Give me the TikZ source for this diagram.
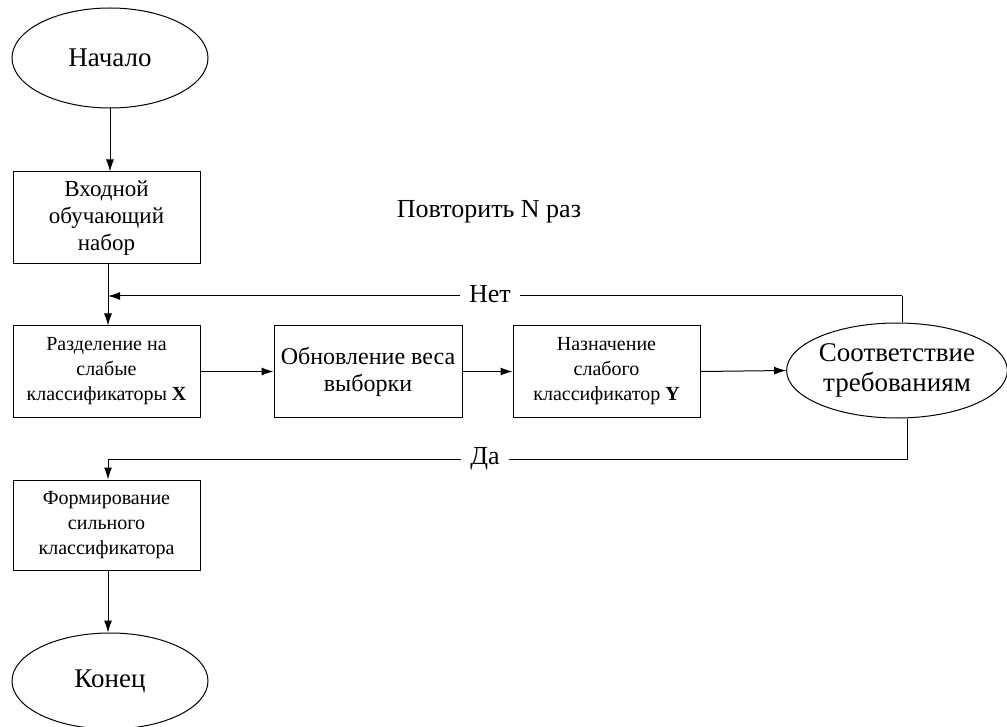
\documentclass[tikz,border=0pt]{standalone}
\usepackage{fontspec}
\setmainfont{Liberation Serif}
\usetikzlibrary{shapes.geometric,arrows.meta}
\tikzset{
  box/.style={draw, line width=1pt, minimum width=187pt, minimum height=92pt, align=center, inner sep=2pt},
  oval/.style={draw, ellipse, line width=1pt, align=center, inner sep=0pt},
  conn/.style={line width=1pt, -{Latex[length=12pt,width=8pt]}},
  plain/.style={line width=1pt},
  lbl/.style={fill=white, inner xsep=9pt, inner ysep=2pt, font=\fontsize{26}{30}\selectfont},
}
\begin{document}
\begin{tikzpicture}[x=1pt,y=-1pt]
\useasboundingbox (0,0) rectangle (1007,727);
\node[oval, minimum width=196pt, minimum height=100pt, font=\fontsize{27}{31}\selectfont] (start) at (110,58) {Начало};
\node[box, minimum height=92pt, font=\fontsize{23}{27}\selectfont] (inp) at (106.5,218) {Входной\\обучающий\\набор};
\node[box, minimum height=91pt, font=\fontsize{20}{25}\selectfont] (split) at (106.5,371.5) {Разделение на\\слабые\\классификаторы \textbf{X}};
\node[box, minimum width=188pt, minimum height=91pt, font=\fontsize{24}{27}\selectfont] (upd) at (368,371.5) {Обновление веса\\выборки};
\node[box, minimum height=91pt, font=\fontsize{20}{25}\selectfont] (assign) at (606.5,371.5) {Назначение\\слабого\\классификатор \textbf{Y}};
\node[oval, minimum width=219pt, minimum height=95pt, font=\fontsize{27}{30}\selectfont] (check) at (897,370.5) {Соответствие\\требованиям};
\node[box, minimum height=90pt, font=\fontsize{20}{25}\selectfont] (strong) at (106.5,525) {Формирование\\сильного\\классификатора};
\node[oval, minimum width=196pt, minimum height=96pt, font=\fontsize{27}{31}\selectfont] (end) at (110,681) {Конец};
\node[font=\fontsize{26}{30}\selectfont] (rep) at (489,212) {Повторить N раз};

\coordinate (noup) at (902,296);
\coordinate (nojoin) at (108,296);
\coordinate (yesdown) at (907,459);
\coordinate (yesjoin) at (108,459);

\draw[conn] (start.south) -- (inp.north -| start.south);
\draw[conn] (inp.south -| nojoin) -- (split.north -| nojoin);
\draw[conn] (split.east) -- (upd.west);
\draw[conn] (upd.east) -- (assign.west);
\draw[conn] (assign.east) -- (check.west);
\draw[plain] (check.north -| noup) -- (noup);
\draw[conn] (noup) -- (nojoin);
\node[lbl] (no) at (490,294) {Нет};
\draw[plain] (check.south -| yesdown) -- (yesdown) -- (yesjoin);
\node[lbl] (yes) at (485,459) {Да};
\draw[conn] (yesjoin) -- (strong.north -| yesjoin);
\draw[conn] (strong.south -| yesjoin) -- (end.north -| yesjoin);
\end{tikzpicture}
\end{document}
